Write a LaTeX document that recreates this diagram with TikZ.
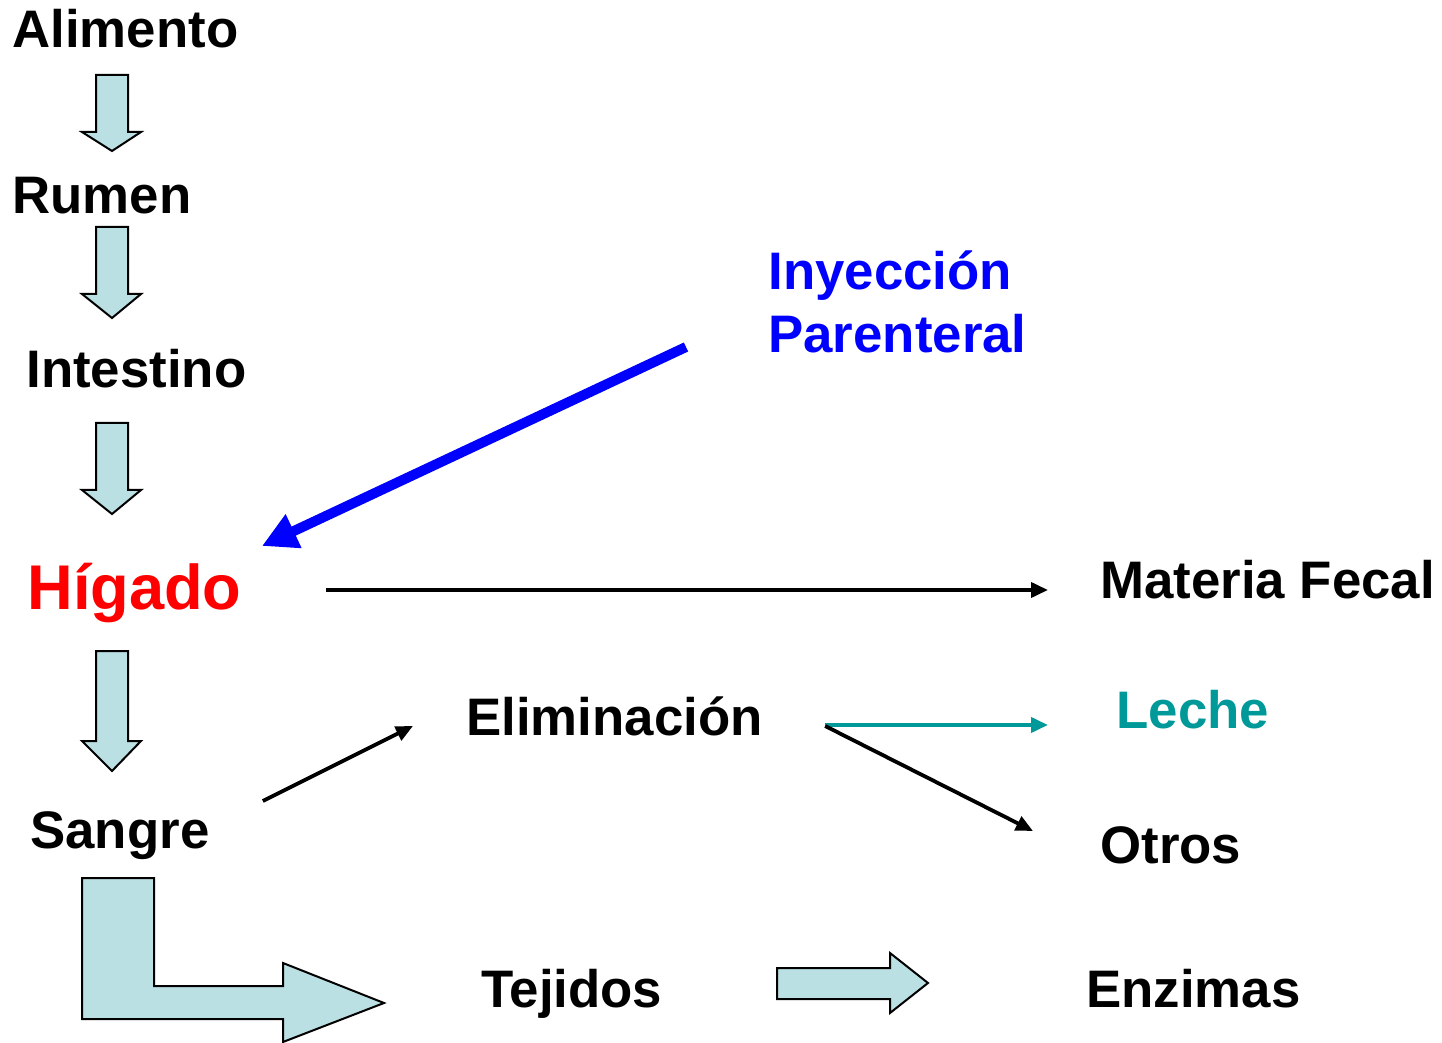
\documentclass[tikz,border=0pt]{standalone}
\usepackage{fontspec}
\setmainfont{Liberation Sans}
\usepackage{tikz}
\usetikzlibrary{arrows.meta,positioning}
\definecolor{celeste}{RGB}{187,224,227}
\definecolor{verdeazul}{RGB}{0,153,153}

\begin{document}
\begin{tikzpicture}[x=0.5pt,y=-0.5pt]
                    \tikzstyle{every node}+=[inner sep=0pt, anchor=base west, font=\fontsize{26.4}{30}\selectfont\bfseries]
                    \tikzstyle{bloque}=[draw=black, fill=celeste, line width=1pt, line join=miter]
                    \tikzstyle{flecha}=[line width=1.9pt, -{Triangle[length=8.5pt,width=7.5pt]}]
                    \useasboundingbox (0,0) rectangle (1442,1043);
                    \node (alimento) at (12,48) {Alimento};
                    \node (rumen) at (12,214) {Rumen};
                    \node (intestino) at (26,388) {Intestino};
                    \node [red, font=\fontsize{31.6}{36}\selectfont\bfseries] (higado) at (27,610) {Hígado};
                    \node (sangre) at (30,848) {Sangre};
                    \node [blue] (inyeccion) at (768,290) {Inyección};
                    \node [blue] (parenteral) at (768,353) {Parenteral};
                    \node (fecal) at (1100,598) {Materia Fecal};
                    \node (eliminacion) at (466,735) {Eliminación};
                    \node [verdeazul] (leche) at (1116,728) {Leche};
                    \node (otros) at (1100,863) {Otros};
                    \node (tejidos) at (481,1007) {Tejidos};
                    \node (enzimas) at (1086,1007) {Enzimas};
                    % flechas de bloque
                    \draw [bloque] (96,75) -- (128,75) -- (128,132) -- (141,132) -- (112,151) -- (82,132) -- (96,132) -- cycle;
                    \draw [bloque] (96,227) -- (128,227) -- (128,294) -- (141,294) -- (112,318) -- (82,294) -- (96,294) -- cycle;
                    \draw [bloque] (96,423) -- (128,423) -- (128,490) -- (141,490) -- (112,514) -- (82,490) -- (96,490) -- cycle;
                    \draw [bloque] (96,651) -- (128,651) -- (128,741) -- (141,741) -- (112,771) -- (82,741) -- (96,741) -- cycle;
                    \draw [bloque] (82,878) -- (154,878) -- (154,986) -- (283,986) -- (283,963) -- (384,1003) -- (283,1042) -- (283,1019) -- (82,1019) -- cycle;
                    \draw [bloque] (777,968) -- (890,968) -- (890,953) -- (928,983) -- (890,1013) -- (890,999) -- (777,999) -- cycle;
                    % conectores
                    \draw [blue, line width=5pt, -{Triangle[length=17.5pt,width=17.5pt]}] ([shift={(-82,57)}]inyeccion.base west) -- ([shift={(20,-64)}]higado.base east);
                    \draw [flecha] ([shift={(84,-20)}]higado.base east) -- ([shift={(-52,-8)}]fecal.base west);
                    \draw [flecha] ([shift={(53,-47)}]sangre.base east) -- ([shift={(-53,-9)}]eliminacion.base west);
                    \draw [flecha, verdeazul] ([shift={(62,-10)}]eliminacion.base east) -- ([shift={(-68,-3)}]leche.base west);
                    \draw [flecha] ([shift={(62,-9)}]eliminacion.base east) -- ([shift={(-67,-32)}]otros.base west);
                \end{tikzpicture}
\end{document}
